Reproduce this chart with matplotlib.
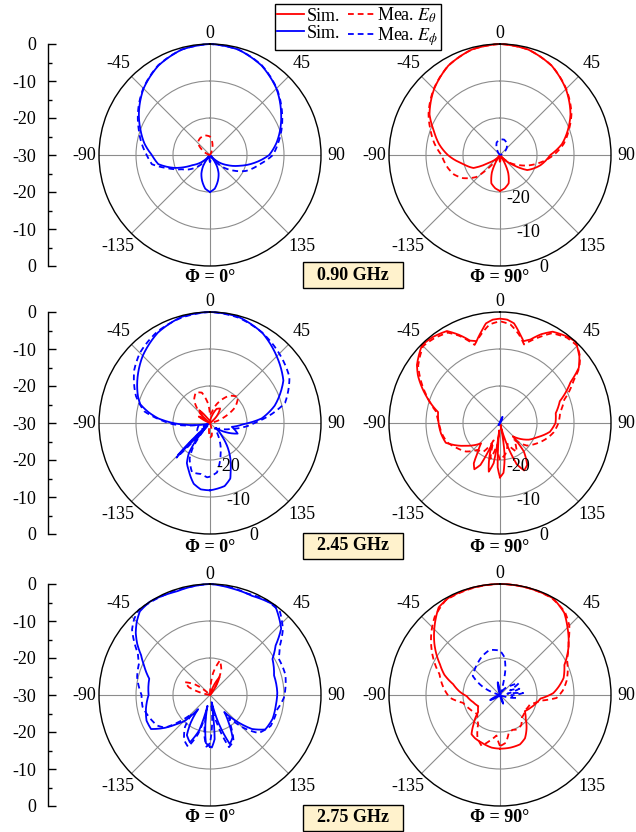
import numpy as np
import matplotlib
matplotlib.use("Agg")
import matplotlib.pyplot as plt
from matplotlib.lines import Line2D
from matplotlib.patches import Rectangle
from matplotlib.ticker import MultipleLocator

plt.rcParams['font.family'] = ['Liberation Serif', 'DejaVu Serif']
plt.rcParams['mathtext.fontset'] = 'stix'

# ---------------- data (angle in deg, level in dB) ----------------
# 0.90 GHz, Phi = 0
a_ph_sim_ang = [-180, -172, -163, -155, -148, -140, -130, -120, -110, -100, -90, -80, -70, -60, -45, -30, -15,
                0, 15, 30, 45, 60, 70, 80, 90, 100, 110, 120, 130, 140, 148, 155, 163, 172, 180]
a_ph_sim_db = [-20, -20.8, -22.7, -24.5, -26.5, -30, -27, -24.5, -19.8, -15.8, -14.3, -12, -10, -7.8, -4.6, -2.1, -0.5,
               0, -0.5, -2.1, -4.6, -7.8, -9.8, -11.8, -14, -17.8, -21.5, -24.5, -27, -30, -26.5, -24.5, -22.7, -20.8, -20]
a_ph_mea_ang = [-180, -160, -145, -132, -124, -117, -107, -99, -90, -80, -70, -60, -45, -30, -15,
                0, 15, 30, 45, 60, 70, 80, 90, 100, 114, 124, 132, 145, 160, 180]
a_ph_mea_db = [-28, -30, -29, -25, -23, -21.5, -17.9, -14.1, -12.9, -11.2, -9.5, -7.5, -4.5, -2, -0.5,
               0, -0.5, -2, -4.5, -7.5, -9.4, -11.3, -13, -16.2, -19.4, -22.5, -24.8, -29, -30, -28]
a_th_mea_ang = [-75, -60, -45, -30, -15, 0, 10, 20, 30]
a_th_mea_db = [-30, -28, -25.3, -24.7, -24.5, -25, -26.5, -28.2, -30]

# 0.90 GHz, Phi = 90
b_th_sim_ang = [-180, -172, -163, -155, -145, -135, -125, -116, -105, -100, -90, -80, -70, -60, -45, -30, -15,
                0, 15, 30, 45, 60, 70, 80, 90, 104, 119, 127, 135, 145, 155, 163, 172, 180]
b_th_sim_db = [-20.3, -20.9, -22, -24.8, -30, -28.5, -26.5, -22, -20, -18.8, -15.9, -13.3, -11, -8, -4.8, -2.1, -0.5,
               0, -0.5, -2.1, -4.8, -8, -10.5, -13, -16.4, -18.7, -21.6, -25.5, -28, -30, -24.8, -22, -20.9, -20.3]
b_th_mea_ang = [-180, -165, -150, -141, -133, -122, -113, -104, -90, -80, -70, -60, -45, -30, -15,
                0, 15, 30, 45, 60, 70, 80, 90, 103, 117, 130, 140, 165, 180]
b_th_mea_db = [-28, -30, -30, -27, -21.3, -18.2, -16.5, -15.5, -14.2, -12, -10, -7.7, -4.7, -2.1, -0.5,
               0, -0.5, -2.1, -4.7, -7.7, -10.2, -12.5, -15.5, -19.7, -23.9, -27, -30, -30, -28]
b_ph_mea_ang = [-45, -30, -15, 0, 15, 30, 45, 60, 75]
b_ph_mea_db = [-30, -28.5, -26.5, -25.8, -25.7, -26.3, -27.5, -29, -30]

# 2.45 GHz, Phi = 0
c_ph_sim_ang = [-180, -172, -165, -156, -150, -145, -141, -138, -135, -131, -120, -110, -100, -95, -90, -85, -80,
                -75, -70, -60, -45, -30, -15, 0, 15, 30, 45, 60, 75, 85, 92, 100, 111, 120, 130, 138, 144, 150,
                155, 160, 167, 180]
c_ph_sim_db = [-11.8, -11.9, -13, -15.9, -17.5, -20, -24, -29, -17.8, -29, -28, -30, -27, -24, -20, -16, -13.1,
               -10.5, -9.3, -7.3, -4.3, -1.8, -0.3, 0, -0.3, -1.8, -4.5, -7.1, -11.9, -16, -21, -24, -22, -25, -28,
               -25, -21.9, -19, -16.7, -14, -12.5, -11.8]
c_ph_mea_ang = [-180, -177, -170, -160, -150, -145, -139, -136, -132, -120, -100, -92, -87, -80, -70, -55, -45, -30,
                -15, 0, 15, 30, 45, 60, 75, 88, 95, 105, 120, 140, 150, 161, 172, 180]
c_ph_mea_db = [-15.5, -15.3, -16, -15.8, -19, -22, -28, -17, -28, -26, -27, -20, -17, -12, -8.7, -5, -3.2, -1.5,
               -0.5, 0, -0.5, -1.8, -3.5, -5.2, -9, -17, -20, -24, -27, -28, -25, -21.2, -16.5, -15.5]
c_th_sim_ang = [-70, -60, -52, -40, -32, -20, 0, 15, 25, 35, 45, 55]
c_th_sim_db = [-30, -26.5, -28.5, -25.5, -28, -29, -30, -28, -25.8, -25.2, -27.5, -30]
c_th_mea_ang = [-55, -45, -35, -25, -15, -5, 0, 10, 20, 35, 47, 58, 68, 80, 160, 172, 180, 188, 195]
c_th_mea_db = [-30, -26, -22.5, -20.9, -21.5, -25, -28, -27, -24.5, -21, -19.6, -22, -26, -30, -30, -26.5, -26, -28, -30]

# 2.45 GHz, Phi = 90
d_th_sim_ang = [-180, -177, -174, -171, -167, -163, -159, -155, -151, -147, -143, -137, -124, -110, -100, -90, -80,
                -70, -60, -55, -45, -38, -30, -25, -20, -16, -12, -8, -4, 0, 4, 8, 12, 16, 20, 25, 30, 38, 43, 50,
                55, 60, 70, 80, 90, 100, 110, 120, 130, 136, 140, 147, 153, 158, 163, 167, 172, 176, 180]
d_th_sim_db = [-15.3, -18, -28, -19, -16.5, -20, -24, -17.5, -15.7, -17, -20, -22.5, -19, -14.4, -13.8, -13.4, -13,
               -8.8, -4.4, -2.6, -0.2, -0.5, -1.3, -3.7, -6.3, -7, -5, -2.8, -2, -1.8, -2, -2.8, -5, -7, -6, -3.5,
               -1.5, -0.4, 0, -2, -4, -8, -12.8, -14.7, -15, -16.3, -19, -21, -23.5, -25, -20, -16.5, -15.6, -18,
               -25, -30, -21, -16.5, -15.3]
d_th_mea_ang = [-180, -172, -165, -160, -150, -140, -130, -120, -110, -100, -90, -80, -70, -60, -55, -45, -38, -30,
                -25, -18, -12, -6, 0, 6, 12, 17, 25, 30, 38, 45, 50, 55, 60, 70, 80, 90, 100, 110, 120, 130, 140,
                150, 160, 170, 180]
d_th_mea_db = [-20, -24, -20, -25, -21, -20.5, -18, -16.5, -14.8, -14, -13.5, -12.5, -9, -5, -3, -0.6, -1, -1.8,
               -4, -7.8, -5.5, -3.2, -2.5, -3.2, -5.5, -7.8, -4.3, -2, -0.7, -0.5, -1.8, -3.8, -7, -11.5, -13.5,
               -14.2, -15.3, -17, -18.8, -20.5, -24, -21, -24, -21.5, -20]
d_ph_sim_ang = [-160, -145, -130, 10, 22, 35]
d_ph_sim_db = [-30, -29.3, -30, -30, -28.2, -30]
d_ph_mea_ang = [15, 25, 35]
d_ph_mea_db = [-30, -28.8, -30]

# 2.75 GHz, Phi = 0
e_ph_sim_ang = [-180, -175, -171, -167, -163, -157, -150, -145, -140, -136, -131, -126, -120, -112, -102, -90, -75,
                -66, -60, -55, -50, -45, -40, -33, -25, -18, -10, 0, 12, 23, 36, 47, 53, 60, 73, 88, 99, 111, 122,
                129, 134, 140, 146, 152, 158, 163, 167, 171, 174, 178, 180]
e_ph_sim_db = [-16, -17, -22, -27, -20, -16.1, -17.5, -21, -25, -20.3, -18, -14.9, -11.6, -11.5, -12.3, -13.4, -13,
               -10.5, -8.5, -6, -3.8, -2, -0.5, 0, -0.3, -0.6, -0.3, 0, -0.6, -0.9, -0.1, -3.7, -7.8, -10.5, -11.9,
               -11.8, -12, -11.9, -12.4, -15.4, -19.3, -24, -21, -17, -15.7, -22, -28, -25, -18, -15.8, -16]
e_ph_mea_ang = [-180, -176, -172, -168, -163, -157, -150, -142, -136, -131, -126, -120, -110, -100, -90, -76, -66,
                -60, -55, -50, -45, -40, -33, -25, -18, -10, 0, 12, 20, 30, 40, 48, 55, 62, 75, 92, 102, 117, 128,
                134, 140, 146, 153, 160, 166, 172, 176, 180]
e_ph_mea_db = [-17, -16, -19, -25, -19, -14.8, -16, -19, -23, -19, -15, -13.5, -12.5, -11.5, -11.5, -9.7, -9, -7.5,
               -5, -2.5, -1, 0, -0.2, -0.3, -0.3, -0.3, 0, -0.4, -0.8, -0.2, -0.6, -3.5, -7, -9, -8.9, -10, -11.4,
               -11.6, -13.3, -17, -22, -20, -16, -15, -22, -27, -22, -17]
e_th_sim_ang = [15, 28, 40]
e_th_sim_db = [-30, -24.5, -30]
e_th_mea_ang = [-80, -70, -63, -55, -45, 0, 8, 16, 24, 32, 40]
e_th_mea_db = [-30, -24, -22.4, -25, -30, -30, -24, -20.3, -22.5, -27, -30]

# 2.75 GHz, Phi = 90
f_th_sim_ang = [-180, -171, -159, -150, -144, -138, -128, -117, -105, -92, -85, -77, -70, -63, -52, -44, -35, -28,
                -15, 0, 15, 29, 38, 45, 55, 65, 75, 82, 88, 95, 102, 112, 123, 133, 141, 150, 158, 169, 180]
f_th_sim_db = [-15.5, -15.6, -16.2, -16.5, -16.9, -19.3, -22.5, -23.4, -22.5, -21, -19, -17, -14, -11.8, -7.5, -4.5,
               -1.1, -0.3, -0.1, 0, -0.1, -0.2, -1.8, -4.2, -7.4, -10.8, -12.2, -14, -15.6, -19, -19.9, -21, -22,
               -20.5, -18.6, -16.5, -15.6, -15.5, -15.5]
f_th_mea_ang = [-180, -175, -168, -160, -152, -143, -130, -115, -102, -93, -82, -71, -57, -48, -40, -30, -15, 0, 15,
                28, 38, 45, 52, 62, 70, 78, 86, 93, 98, 107, 120, 136, 145, 154, 160, 167, 173, 180]
f_th_mea_db = [-16.2, -19, -17.5, -15.4, -17, -20.2, -22, -21, -19.8, -16.4, -14.5, -12.7, -8, -5, -2.5, -0.5, -0.2,
               0, -0.1, -0.3, -1.5, -3.5, -6.5, -9.5, -10.5, -11.6, -13, -14.7, -19, -21.5, -22, -21.5, -20, -19.6,
               -20, -19.5, -17, -16.2]
f_ph_sim_ang = [-130, -117, -105, -20, -10, 0, 150, 160, 170]
f_ph_sim_db = [-30, -27, -30, -30, -26.5, -30, -30, -27.5, -30]
f_ph_mea_ang = [-75, -65, -55, -45, -35, -25, -13, 0, 7, 12, 16, 22, 35, 50, 58, 65, 72, 80, 85, 92, 100, 110, 120]
f_ph_mea_db = [-30, -25, -21, -20.3, -19.5, -18.5, -17.5, -18, -19.8, -23, -27, -30, -28, -26, -24, -27, -24.5, -28,
               -23.7, -27, -25.5, -29, -30]

freqs = ['0.90 GHz', '2.45 GHz', '2.75 GHz']
theta_ticks = [0, 45, 90, 135, 180, 225, 270, 315]
theta_labels = ['0', '45', '90', '135', '', '-135', '-90', '-45']
scale_ticks = [-30, -20, -10, 0, 10, 20, 30]
scale_labels = ['0', '-10', '-20', '-30', '-20', '-10', '0']
rlabel_vals = ['-20', '-10', '0']

# ---------------- layout ----------------
W, H = 636, 832
R = 111
RED, BLUE = '#ff0000', '#0000ff'
DASH = (0, (3.2, 2.2))
FS = 13

fig = plt.figure(figsize=(W / 100, H / 100), dpi=100)


def px2db(rpx):
    return -30 + rpx / R * 30


def polar_at(cx, cy):
    ax = fig.add_axes([(cx - R) / W, 1 - (cy + R) / H, 2 * R / W, 2 * R / H], projection='polar')
    ax.set_theta_zero_location('N')
    ax.set_theta_direction(-1)
    ax.set_rlim(-30, 0)
    ax.set_rgrids([-20, -10], labels=['', ''])
    ax.set_thetagrids(theta_ticks, labels=[''] * len(theta_ticks))
    ax.grid(color='#8c8c8c', lw=0.8)
    ax.spines['polar'].set_linewidth(1.0)
    for t, lab in zip(theta_ticks, theta_labels):
        dist = 121 if t == 0 else (126 if t % 90 == 0 else 130)
        ax.text(np.deg2rad(t), px2db(dist), lab, fontsize=FS, ha='center', va='center', clip_on=False)
    return ax


def trace(ax, ang, db, color, ls='-'):
    ln, = ax.plot(np.deg2rad(ang), np.clip(db, -30, 0), color=color, ls=ls, lw=1.3, clip_on=False)
    ln.get_path()._interpolation_steps = 12


def rlabels(ax):
    for v, th, r in zip(rlabel_vals, [157, 160, 159], [-17.3, -7.6, 2.7]):
        ax.text(np.deg2rad(th), r, v, fontsize=FS, ha='center', va='center')


rows = [155, 423, 695]
cols = [210, 500]

panels = [
    # (row, col, curves, radial labels)
    (0, 0, [(a_ph_sim_ang, a_ph_sim_db, BLUE, '-'), (a_ph_mea_ang, a_ph_mea_db, BLUE, DASH),
            (a_th_mea_ang, a_th_mea_db, RED, DASH)], False),
    (0, 1, [(b_th_sim_ang, b_th_sim_db, RED, '-'), (b_th_mea_ang, b_th_mea_db, RED, DASH),
            (b_ph_mea_ang, b_ph_mea_db, BLUE, DASH)], True),
    (1, 0, [(c_ph_sim_ang, c_ph_sim_db, BLUE, '-'), (c_ph_mea_ang, c_ph_mea_db, BLUE, DASH),
            (c_th_sim_ang, c_th_sim_db, RED, '-'), (c_th_mea_ang, c_th_mea_db, RED, DASH)], True),
    (1, 1, [(d_th_sim_ang, d_th_sim_db, RED, '-'), (d_th_mea_ang, d_th_mea_db, RED, DASH),
            (d_ph_sim_ang, d_ph_sim_db, BLUE, '-'), (d_ph_mea_ang, d_ph_mea_db, BLUE, DASH)], True),
    (2, 0, [(e_ph_sim_ang, e_ph_sim_db, BLUE, '-'), (e_ph_mea_ang, e_ph_mea_db, BLUE, DASH),
            (e_th_sim_ang, e_th_sim_db, RED, '-'), (e_th_mea_ang, e_th_mea_db, RED, DASH)], False),
    (2, 1, [(f_th_sim_ang, f_th_sim_db, RED, '-'), (f_th_mea_ang, f_th_mea_db, RED, DASH),
            (f_ph_sim_ang, f_ph_sim_db, BLUE, '-'), (f_ph_mea_ang, f_ph_mea_db, BLUE, DASH)], False),
]

for r, c, curves, show_r in panels:
    ax = polar_at(cols[c], rows[r])
    for ang, db, color, ls in curves:
        trace(ax, ang, db, color, ls)
    if show_r:
        rlabels(ax)

# left dB scales
for cy in rows:
    sax = fig.add_axes([48 / W, 1 - (cy + R) / H, 0.002, 2 * R / H])
    sax.set_ylim(-30, 30)
    sax.set_yticks(scale_ticks)
    sax.set_yticklabels(scale_labels)
    sax.yaxis.set_minor_locator(MultipleLocator(5))
    sax.tick_params(axis='y', which='major', direction='in', length=6, width=1, labelsize=FS, pad=8.5)
    sax.tick_params(axis='y', which='minor', direction='in', length=3, width=1)
    sax.set_xticks([])
    for s in ['top', 'right', 'bottom']:
        sax.spines[s].set_visible(False)
    sax.spines['left'].set_linewidth(1.0)
    sax.patch.set_visible(False)

# cut labels and frequency boxes
lab_y = [277, 548, 818]
box_y = [275, 546, 818]
for i in range(3):
    fig.text(cols[0] / W, 1 - lab_y[i] / H, 'Φ = 0°', ha='center', va='center', fontsize=FS, fontweight='bold')
    fig.text(cols[1] / W, 1 - lab_y[i] / H, 'Φ = 90°', ha='center', va='center', fontsize=FS, fontweight='bold')
    fig.add_artist(Rectangle((303 / W, 1 - (box_y[i] + 13) / H), 100 / W, 26 / H, transform=fig.transFigure,
                             fc='#fff2cc', ec='black', lw=1.0))
    fig.text(353 / W, 1 - box_y[i] / H, freqs[i], ha='center', va='center', fontsize=FS, fontweight='bold')

# legend
handles = [Line2D([], [], color=RED, lw=1.3), Line2D([], [], color=BLUE, lw=1.3),
           Line2D([], [], color=RED, lw=1.3, ls=DASH), Line2D([], [], color=BLUE, lw=1.3, ls=DASH)]
labels = ['Sim.', 'Sim.', r'Mea. $E_\theta$', r'Mea. $E_\phi$']
leg = fig.legend(handles, labels, ncol=2, loc='upper center', bbox_to_anchor=(358 / W, 1 - 4 / H),
                 frameon=True, fancybox=False, edgecolor='black', framealpha=1, fontsize=FS,
                 handlelength=1.5, handletextpad=0.15, columnspacing=0.4, borderpad=0.1,
                 labelspacing=0.0, borderaxespad=0)
leg.get_frame().set_linewidth(1.0)

fig.savefig('out.png', dpi=100)
